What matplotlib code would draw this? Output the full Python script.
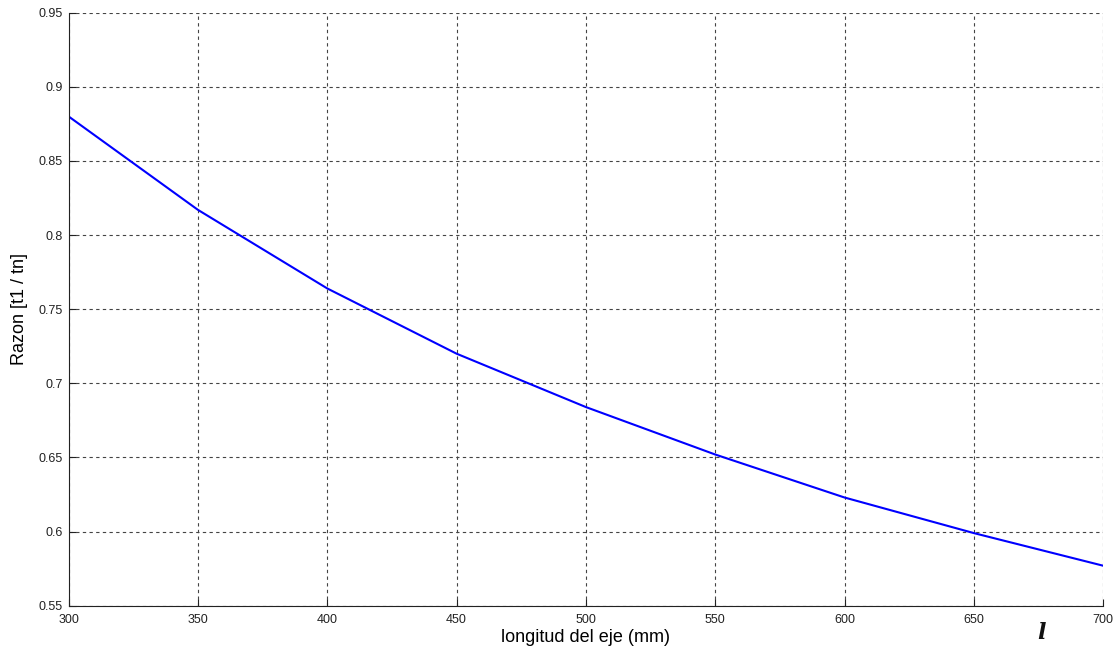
import matplotlib.pyplot as plt

longitud = [300, 350, 400, 450, 500, 550, 600, 650, 700]
razon = [0.880, 0.817, 0.764, 0.720, 0.684, 0.652, 0.623, 0.599, 0.577]

x_ticks = [300, 350, 400, 450, 500, 550, 600, 650, 700]
y_ticks = [0.55, 0.6, 0.65, 0.7, 0.75, 0.8, 0.85, 0.9, 0.95]
y_labels = ['0.55', '0.6', '0.65', '0.7', '0.75', '0.8', '0.85', '0.9', '0.95']


def main():
    plt.rcParams['font.family'] = ['Liberation Sans', 'DejaVu Sans']
    fig = plt.figure(figsize=(11.2, 6.57), dpi=100)
    ax = fig.add_axes([0.0613, 0.078, 0.9237, 0.9027])

    ax.plot(longitud, razon, color='#0000ff', lw=1.5)

    ax.set_xlim(300, 700)
    ax.set_ylim(0.55, 0.95)
    ax.set_xticks(x_ticks)
    ax.set_yticks(y_ticks)
    ax.set_yticklabels(y_labels)
    ax.tick_params(direction='in', length=5, labelsize=9, colors='#222222')
    ax.tick_params(axis='x', pad=6)
    ax.tick_params(axis='y', pad=4)

    ax.grid(True, ls=(0, (3, 3)), color='#444444', lw=0.8)
    ax.spines['top'].set_visible(False)
    ax.spines['right'].set_visible(False)
    for s in ['left', 'bottom']:
        ax.spines[s].set_color('#222222')

    ax.set_xlabel('longitud del eje (mm)', fontsize=13, labelpad=2)
    ax.set_ylabel('Razon [t1 / tn]', fontsize=13, labelpad=8)

    fig.text(0.926, 0.028, 'l', fontsize=16, fontstyle='italic', fontweight='bold',
             family='DejaVu Serif', color='#111111')

    fig.savefig('out.png', dpi=100)


if __name__ == '__main__':
    main()
